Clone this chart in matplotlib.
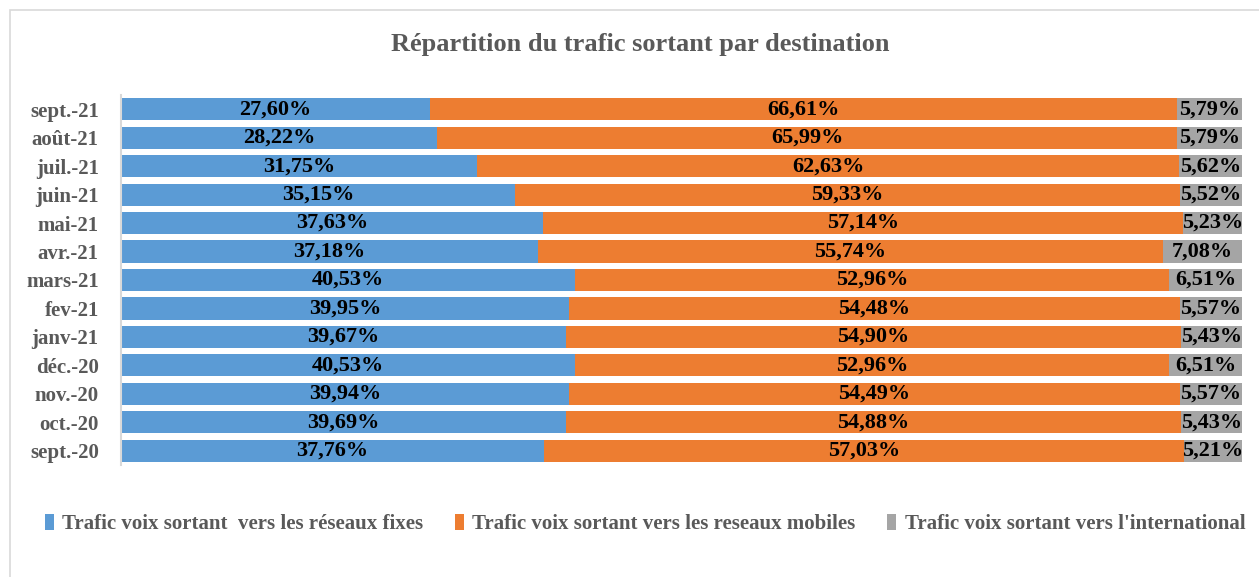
import matplotlib.pyplot as plt
from matplotlib.patches import Rectangle

months = ['sept.-20', 'oct.-20', 'nov.-20', 'déc.-20', 'janv-21', 'fev-21', 'mars-21',
          'avr.-21', 'mai-21', 'juin-21', 'juil.-21', 'août-21', 'sept.-21']
fixes = [37.76, 39.69, 39.94, 40.53, 39.67, 39.95, 40.53, 37.18, 37.63, 35.15, 31.75, 28.22, 27.60]
mobiles = [57.03, 54.88, 54.49, 52.96, 54.90, 54.48, 52.96, 55.74, 57.14, 59.33, 62.63, 65.99, 66.61]
inter = [5.21, 5.43, 5.57, 6.51, 5.43, 5.57, 6.51, 7.08, 5.23, 5.52, 5.62, 5.79, 5.79]

series = [
    ('Trafic voix sortant  vers les réseaux fixes', fixes, '#5b9bd5'),
    ('Trafic voix sortant vers les reseaux mobiles', mobiles, '#ed7d31'),
    ("Trafic voix sortant vers l'international", inter, '#a5a5a5'),
]

plt.rcParams['font.family'] = ['Liberation Serif', 'DejaVu Serif']

fig = plt.figure(figsize=(12.59, 5.77), dpi=100)
ax = fig.add_axes([121 / 1259, 1 - 465 / 577, (1242 - 121) / 1259, (465 - 95) / 577])

# outer chart border
fig.patches.append(Rectangle((10 / 1259, -0.1), 1.2, 1 - 10 / 577 + 0.1,
                             transform=fig.transFigure, fill=False,
                             edgecolor='#d9d9d9', linewidth=1.2))

y = range(len(months))
left = [0] * len(months)
for name, vals, col in series:
    ax.barh(y, vals, left=left, height=0.78, color=col, label=name)
    for i, v in enumerate(vals):
        ax.text(left[i] + v / 2, i, ('%.2f%%' % v).replace('.', ','),
                ha='center', va='center', fontsize=16, fontweight='bold', color='black')
    left = [l + v for l, v in zip(left, vals)]

ax.set_xlim(0, 100)
ax.set_ylim(-0.5, len(months) - 0.5)
ax.set_yticks(list(y))
ax.set_yticklabels(months, fontsize=15, fontweight='bold', color='#595959')
ax.set_xticks([])
ax.tick_params(axis='y', length=0, pad=16)
for s in ['top', 'right', 'bottom']:
    ax.spines[s].set_visible(False)
ax.spines['left'].set_color('#d9d9d9')
ax.spines['left'].set_linewidth(1.5)

fig.text(640 / 1259, 1 - 45 / 577, 'Répartition du trafic sortant par destination',
         ha='center', va='center', fontsize=19, fontweight='bold', color='#595959')

fig.legend(loc='center', bbox_to_anchor=(645 / 1259, 1 - 524 / 577), ncol=3, frameon=False,
           prop={'size': 15, 'weight': 'bold'}, labelcolor='#595959',
           handlelength=0.45, handleheight=0.8, handletextpad=0.4, columnspacing=1.5)

fig.savefig('out.png', dpi=100)
